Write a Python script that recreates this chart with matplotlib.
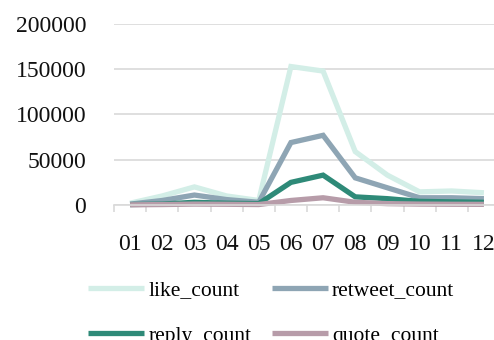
import matplotlib
matplotlib.use("Agg")
import matplotlib.pyplot as plt

plt.rcParams['font.family'] = ['Liberation Serif', 'DejaVu Serif']

months = ["01", "02", "03", "04", "05", "06", "07", "08", "09", "10", "11", "12"]
like_count = [2000, 10000, 20000, 10000, 5000, 153000, 148000, 59000, 33000, 14500, 15500, 13500]
retweet_count = [1000, 5000, 11000, 6000, 3000, 69000, 77000, 30000, 19000, 8000, 8000, 7000]
reply_count = [500, 1000, 3000, 2000, 1500, 25000, 33000, 9000, 7000, 4000, 3500, 3000]
quote_count = [200, 500, 1000, 800, 500, 5000, 8000, 3000, 1500, 1000, 800, 700]

series = [
    ("like_count", like_count, "#d3eee7"),
    ("retweet_count", retweet_count, "#8ea5b4"),
    ("reply_count", reply_count, "#2e8a78"),
    ("quote_count", quote_count, "#b79ca9"),
]

W, H = 494, 340
fig = plt.figure(figsize=(W / 100, H / 100), dpi=100)
ax = fig.add_axes([114 / W, (H - 205) / H, 386 / W, (205 - 24) / H])

x = list(range(len(months)))
lines = {}
for name, vals, col in series:
    lines[name], = ax.plot(x, vals, color=col, lw=3.8, label=name, clip_on=False,
                           solid_capstyle='butt', solid_joinstyle='miter')

ax.set_xlim(-0.5, len(months) - 0.5)
ax.set_ylim(0, 200000)
ax.set_yticks([0, 50000, 100000, 150000, 200000])
ax.set_yticklabels(["0", "50000", "100000", "150000", "200000"])
ax.set_xticks(x)
ax.set_xticklabels(months)
ax.set_xticks([i - 0.5 for i in range(len(months) + 1)], minor=True)

ax.tick_params(axis='y', length=0, pad=20, labelsize=17, labelcolor='#111111')
ax.tick_params(axis='x', which='major', length=0, pad=21, labelsize=17, labelcolor='#111111')
ax.tick_params(axis='x', which='minor', length=5, width=1.2, color='#d9d9d9')

ax.grid(axis='y', color='#d9d9d9', lw=1.2)
ax.set_axisbelow(True)
for s in ['top', 'right', 'left']:
    ax.spines[s].set_visible(False)
ax.spines['bottom'].set_color('#d9d9d9')
ax.spines['bottom'].set_linewidth(1.2)

# legend fills column-wise, so order gives rows: like/retweet, reply/quote
order = ["like_count", "reply_count", "retweet_count", "quote_count"]
fig.legend([lines[n] for n in order], order,
           loc='upper left', bbox_to_anchor=(88 / W, 1 - 280 / H), ncol=2,
           frameon=False, fontsize=15.5, handlelength=2.6, handletextpad=0.2,
           columnspacing=0.95, labelspacing=1.2, borderaxespad=0, borderpad=0)

fig.savefig("out.png", dpi=100)
